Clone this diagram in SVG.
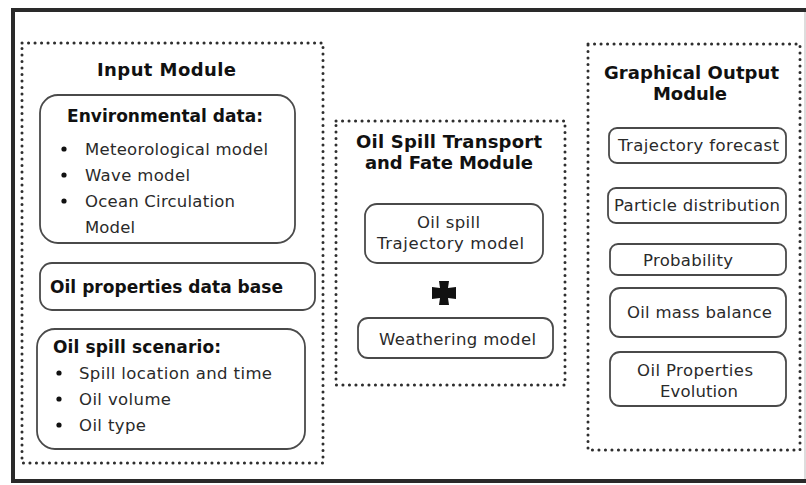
<svg xmlns="http://www.w3.org/2000/svg" width="806" height="485" viewBox="0 0 806 485">
<style>
  .frame { fill: none; stroke: #2a2a2a; stroke-width: 4; }
  .module { fill: none; stroke: #2e2e2e; stroke-width: 3; stroke-dasharray: 0.1 6.4; stroke-linecap: round; }
  .box { fill: #fff; stroke: #4a4a4a; stroke-width: 1.8; }
  .title { font-family: "DejaVu Sans", Verdana, sans-serif; font-weight: bold; font-size: 18px; fill: #111; }
  .sub { font-family: "DejaVu Sans", Verdana, sans-serif; font-weight: bold; font-size: 17px; fill: #111; }
  .txt { font-family: "DejaVu Sans", Verdana, sans-serif; font-size: 16.5px; fill: #2a2a2a; }
  .bullet { fill: #111; }
</style>
<rect width="806" height="485" fill="#fff"/>
<g id="frame">
  <line class="frame" x1="13" y1="10" x2="806" y2="10"/>
  <line class="frame" x1="13" y1="8" x2="13" y2="483"/>
  <line class="frame" x1="13" y1="481" x2="806" y2="481"/>
  <line x1="805" y1="12" x2="805" y2="479" stroke="#bbb" stroke-width="1"/>
</g>

<g id="input-module">
  <rect class="module" x="22" y="43" width="301" height="420"/>
  <text class="title" x="97" y="76" textLength="139">Input Module</text>
</g>
<g id="environmental-data">
  <rect class="box" x="40" y="95" width="255" height="148" rx="18"/>
  <text class="sub" x="67" y="122" textLength="196">Environmental data:</text>
  <circle class="bullet" cx="64" cy="149" r="2.6"/>
  <circle class="bullet" cx="64" cy="175" r="2.6"/>
  <circle class="bullet" cx="64" cy="201" r="2.6"/>
  <text class="txt" x="85" y="155" textLength="183">Meteorological model</text>
  <text class="txt" x="85" y="181" textLength="105">Wave model</text>
  <text class="txt" x="85" y="207" textLength="150">Ocean Circulation</text>
  <text class="txt" x="85" y="233" textLength="50">Model</text>
</g>
<g id="oil-properties-db">
  <rect class="box" x="40" y="263" width="275" height="47" rx="12"/>
  <text class="sub" x="50" y="293" textLength="233">Oil properties data base</text>
</g>
<g id="oil-spill-scenario">
  <rect class="box" x="37" y="329" width="268" height="120" rx="18"/>
  <text class="sub" x="53" y="353" textLength="168">Oil spill scenario:</text>
  <circle class="bullet" cx="59" cy="373" r="2.6"/>
  <circle class="bullet" cx="59" cy="399" r="2.6"/>
  <circle class="bullet" cx="59" cy="425" r="2.6"/>
  <text class="txt" x="79" y="379" textLength="193">Spill location and time</text>
  <text class="txt" x="79" y="405" textLength="92">Oil volume</text>
  <text class="txt" x="79" y="431" textLength="67">Oil type</text>
</g>

<g id="transport-fate-module">
  <rect class="module" x="336" y="121" width="229" height="264"/>
  <text class="title" x="356" y="148" textLength="186">Oil Spill Transport</text>
  <text class="title" x="365" y="169" textLength="168">and Fate Module</text>
</g>
<g id="trajectory-model">
  <rect class="box" x="365" y="204" width="178" height="59" rx="12"/>
  <text class="txt" x="417" y="228" textLength="63">Oil spill</text>
  <text class="txt" x="377" y="249" textLength="147">Trajectory model</text>
</g>
<g id="plus">
  <path d="M439 281 L449 281 L448 288 L456 287 L456 299 L448 298 L449 305 L439 305 L440 298 L432 299 L432 287 L440 288 Z" fill="#111"/>
</g>
<g id="weathering-model">
  <rect class="box" x="358" y="318" width="195" height="40" rx="10"/>
  <text class="txt" x="379" y="345" textLength="157">Weathering model</text>
</g>

<g id="output-module">
  <rect class="module" x="588" y="44" width="212" height="406"/>
  <text class="title" x="604" y="79" textLength="175">Graphical Output</text>
  <text class="title" x="653" y="100" textLength="74">Module</text>
</g>
<g id="trajectory-forecast">
  <rect class="box" x="609" y="128" width="177" height="35" rx="8"/>
  <text class="txt" x="618" y="151" textLength="161">Trajectory forecast</text>
</g>
<g id="particle-distribution">
  <rect class="box" x="608" y="188" width="178" height="35" rx="8"/>
  <text class="txt" x="614" y="211" textLength="166">Particle distribution</text>
</g>
<g id="probability">
  <rect class="box" x="610" y="244" width="176" height="31" rx="8"/>
  <text class="txt" x="643" y="266" textLength="90">Probability</text>
</g>
<g id="oil-mass-balance">
  <rect class="box" x="610" y="288" width="176" height="49" rx="10"/>
  <text class="txt" x="627" y="318" textLength="145">Oil mass balance</text>
</g>
<g id="oil-properties-evolution">
  <rect class="box" x="610" y="352" width="176" height="54" rx="10"/>
  <text class="txt" x="637" y="376" textLength="116">Oil Properties</text>
  <text class="txt" x="660" y="397" textLength="78">Evolution</text>
</g>
</svg>
